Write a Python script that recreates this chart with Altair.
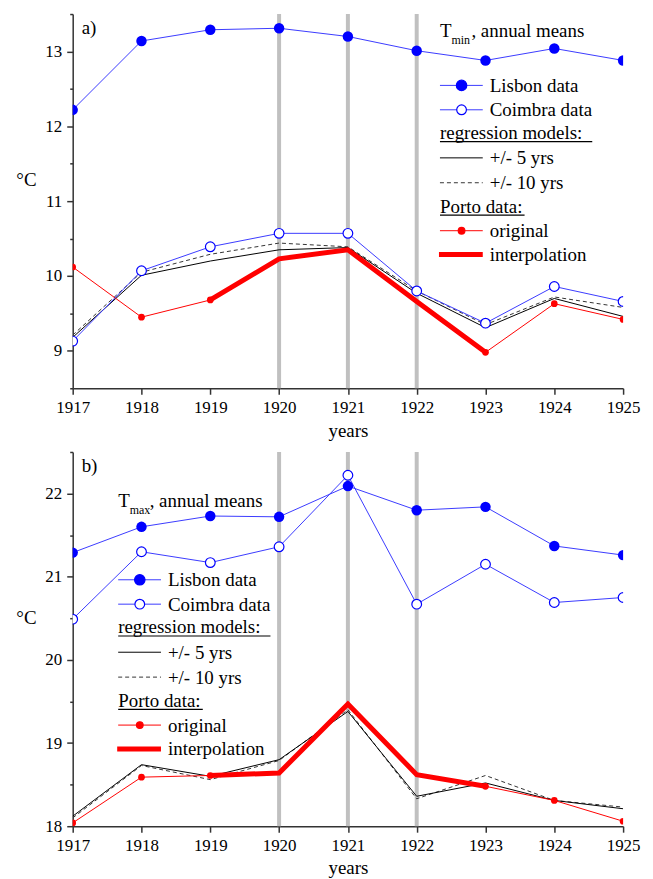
import altair as alt
import pandas as pd

FONT = "Liberation Serif"

years = [1917, 1918, 1919, 1920, 1921, 1922, 1923, 1924, 1925]
marked_years = [1920, 1921, 1922]
porto_years = [1917, 1918, 1919, 1923, 1924, 1925]
porto_segment = ["s1", "s1", "s1", "s2", "s2", "s2"]
interp_years = [1919, 1920, 1921, 1922, 1923]

# panel a) Tmin
a_lisbon = [12.22, 13.14, 13.29, 13.31, 13.20, 13.01, 12.88, 13.04, 12.88]
a_coimbra = [9.13, 10.07, 10.39, 10.57, 10.57, 9.80, 9.37, 9.86, 9.66]
a_reg5 = [9.18, 10.01, 10.20, 10.35, 10.38, 9.77, 9.31, 9.70, 9.46]
a_reg10 = [9.21, 10.05, 10.29, 10.44, 10.39, 9.80, 9.35, 9.72, 9.58]
a_porto = [10.12, 9.45, 9.68, 8.98, 9.63, 9.42]
a_interp = [9.68, 10.23, 10.35, 9.66, 8.98]
a_ticks = [8.5, 9, 9.5, 10, 10.5, 11, 11.5, 12, 12.5, 13, 13.5]

# panel b) Tmax
b_lisbon = [21.29, 21.60, 21.73, 21.72, 22.09, 21.80, 21.84, 21.37, 21.26]
b_coimbra = [20.49, 21.30, 21.17, 21.36, 22.22, 20.67, 21.15, 20.69, 20.75]
b_reg5 = [18.12, 18.74, 18.60, 18.80, 19.38, 18.36, 18.52, 18.31, 18.21]
b_reg10 = [18.10, 18.73, 18.56, 18.79, 19.40, 18.33, 18.61, 18.31, 18.23]
b_porto = [18.04, 18.59, 18.61, 18.48, 18.31, 18.06]
b_interp = [18.61, 18.64, 19.47, 18.62, 18.48]
b_ticks = [18, 18.5, 19, 19.5, 20, 20.5, 21, 21.5, 22, 22.5]

BLUE = "#0000ff"
BLUE_LINE = "#3a3aff"
RED = "#ff0000"
GREY = "#c0c0c0"
AX = "#333333"

W, H = 553, 376
one = pd.DataFrame({"k": [0]})


def txt(x, y, s, size=19, align="left"):
    return alt.Chart(one).mark_text(
        align=align, baseline="alphabetic", font=FONT, fontSize=size, color="black"
    ).encode(x=alt.value(x), y=alt.value(y), text=alt.value(s))


def hline(x1, x2, y, color="black", width=1.0, dash=None):
    kw = dict(color=color, strokeWidth=width)
    if dash:
        kw["strokeDash"] = dash
    return alt.Chart(one).mark_rule(**kw).encode(
        x=alt.value(x1), x2=alt.value(x2), y=alt.value(y)
    )


def dot(x, y, size, filled, color):
    return alt.Chart(one).mark_point(
        shape="circle", size=size, filled=True,
        fill=color if filled else "white", stroke=color, strokeWidth=1.2, opacity=1
    ).encode(x=alt.value(x), y=alt.value(y))


def legend(x0, title_base, row0, sub):
    L = []
    L.append(txt(x0, title_base, "T"))
    L.append(txt(x0 + 11.6, title_base + 7.5, sub, size=12))
    L.append(txt(x0 + 31.6, title_base, ", annual means"))
    tx = x0 + 50
    y = row0
    L.append(hline(x0, x0 + 43, y, BLUE_LINE, 1))
    L.append(dot(x0 + 21.7, y, 110, True, BLUE))
    L.append(txt(tx, y + 6.5, "Lisbon data"))
    y = row0 + 24.5
    L.append(hline(x0, x0 + 43, y, BLUE_LINE, 1))
    L.append(dot(x0 + 21.7, y, 95, False, BLUE))
    L.append(txt(tx, y + 6.5, "Coimbra data"))
    y = row0 + 53.5
    L.append(txt(x0, y, "regression models:"))
    L.append(hline(x0, x0 + 153, y + 3, "black", 1.2))
    y = row0 + 72.8
    L.append(hline(x0, x0 + 43, y, "black", 1))
    L.append(txt(tx, y + 6.5, "+/- 5 yrs"))
    y = row0 + 97.8
    L.append(hline(x0, x0 + 43, y, "#333333", 1, [4, 3]))
    L.append(txt(tx, y + 6.5, "+/- 10 yrs"))
    y = row0 + 127.8
    L.append(txt(x0, y, "Porto data:"))
    L.append(hline(x0, x0 + 85, y + 2.5, "black", 1.2))
    y = row0 + 146
    L.append(hline(x0, x0 + 43, y, RED, 1))
    L.append(dot(x0 + 21.7, y, 45, True, RED))
    L.append(txt(tx, y + 6.5, "original"))
    y = row0 + 170
    L.append(hline(x0 - 1, x0 + 43, y, RED, 5))
    L.append(txt(tx, y + 6.5, "interpolation"))
    return L


def panel(label, lis, coi, r5, r10, porto, interp, ticks, sub, leg):
    ydom = [ticks[0], ticks[-1]]
    xs = alt.Scale(domain=[years[0], years[-1]], nice=False, zero=False)
    ys = alt.Scale(domain=ydom, nice=False, zero=False)
    xax = alt.Axis(
        values=years, format="d", title="years", labelFontSize=17, titleFontSize=19,
        titleFontWeight="normal", labelFont=FONT, titleFont=FONT, grid=False,
        domainColor=AX, domainWidth=1.5, tickColor=AX, tickWidth=1.5, tickSize=6,
        labelPadding=5, titlePadding=6, labelColor="black", titleColor="black",
        labelFlush=False,
    )
    yax = alt.Axis(
        values=ticks,
        labelExpr="datum.value % 1 === 0 ? format(datum.value, 'd') : ''",
        title="°C", titleAngle=0, titleX=-47, titleY=166, titleAlign="center",
        titleBaseline="middle", labelFontSize=17, titleFontSize=19,
        titleFontWeight="normal", labelFont=FONT, titleFont=FONT, grid=False,
        domainColor=AX, domainWidth=1.5, tickColor=AX, tickWidth=1.5,
        tickSize={"condition": {"test": "datum.value % 1 !== 0", "value": 3}, "value": 6},
        labelPadding=5, labelColor="black", titleColor="black", labelFlush=False,
    )
    X = alt.X("year:Q", scale=xs, axis=xax)
    Y = alt.Y("v:Q", scale=ys, axis=yax)

    df_main = pd.DataFrame({"year": years, "lis": lis, "coi": coi, "r5": r5, "r10": r10})
    df_porto = pd.DataFrame({"year": porto_years, "v": porto, "seg": porto_segment})
    df_interp = pd.DataFrame({"year": interp_years, "v": interp})
    df_marks = pd.DataFrame({"year": marked_years})

    rules = alt.Chart(df_marks).mark_rule(color=GREY, strokeWidth=4).encode(x=X)

    def series(col):
        return alt.Chart(df_main).transform_calculate(v=f"datum.{col}")

    reg5 = series("r5").mark_line(color="black", strokeWidth=1, clip=True).encode(x=X, y=Y)
    reg10 = series("r10").mark_line(color="#333333", strokeWidth=1, strokeDash=[4, 3], clip=True).encode(x=X, y=Y)
    coi_line = series("coi").mark_line(color=BLUE_LINE, strokeWidth=1, clip=True).encode(x=X, y=Y)
    coi_pts = series("coi").mark_point(shape="circle", size=95, filled=True, fill="white",
                                       stroke=BLUE, strokeWidth=1.2, opacity=1, clip=True).encode(x=X, y=Y)
    lis_line = series("lis").mark_line(color=BLUE_LINE, strokeWidth=1, clip=True).encode(x=X, y=Y)
    lis_pts = series("lis").mark_point(shape="circle", size=110, filled=True, color=BLUE,
                                       opacity=1, clip=True).encode(x=X, y=Y)
    porto_line = alt.Chart(df_porto).mark_line(color=RED, strokeWidth=1, clip=True).encode(
        x=X, y=Y, detail="seg:N")
    porto_pts = alt.Chart(df_porto).mark_point(shape="circle", size=45, filled=True, color=RED,
                                               opacity=1, clip=True).encode(x=X, y=Y)
    interp_line = alt.Chart(df_interp).mark_line(color=RED, strokeWidth=5, clip=True).encode(x=X, y=Y)

    lab = txt(9, 20, label)
    layers = [rules, reg10, reg5, porto_line, porto_pts, interp_line,
              coi_line, coi_pts, lis_line, lis_pts, lab] + legend(*leg, sub)
    return alt.layer(*layers).properties(width=W, height=H)


pa = panel("a)", a_lisbon, a_coimbra, a_reg5, a_reg10, a_porto, a_interp, a_ticks,
           "min", (369, 23, 71.7))
pb = panel("b)", b_lisbon, b_coimbra, b_reg5, b_reg10, b_porto, b_interp, b_ticks,
           "max", (45.7, 55, 128.4))

chart = alt.vconcat(pa, pb, spacing=10).properties(
    padding={"left": 7, "top": 2, "right": 5, "bottom": 5}
).configure_view(stroke=None)

chart.save("out.html", embed_options={"renderer": "svg", "actions": False})
